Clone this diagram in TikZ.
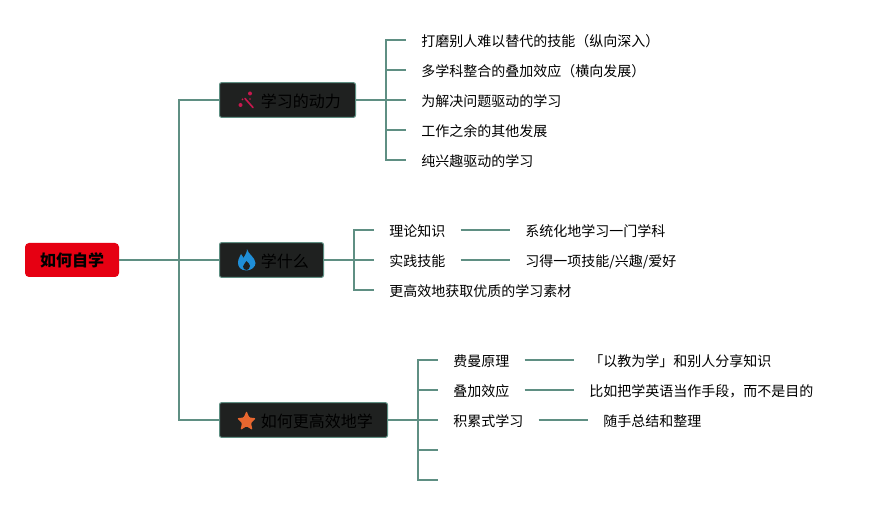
\documentclass[tikz,border=0pt]{standalone}
\usepackage{fontspec}
\setmainfont{Noto Sans CJK SC}
\definecolor{linec}{HTML}{5F8F83}
\definecolor{darkb}{HTML}{1F2120}
\definecolor{rootr}{HTML}{E60012}
\definecolor{wand}{HTML}{C8184E}
\definecolor{flame}{HTML}{1F8FD8}
\definecolor{starc}{HTML}{E8672F}
\tikzset{
  conn/.style={draw=linec,line width=1.5pt},
  rootbox/.style={fill=rootr,rounded corners=3pt,minimum width=70.5pt,minimum height=25.5pt,inner sep=0pt,text height=11.6pt,text depth=2.5pt,font=\fontsize{12}{12}\selectfont\bfseries,text=black},
  branchbox/.style={fill=darkb,draw=linec,line width=0.75pt,rounded corners=1.5pt,minimum height=26pt,inner xsep=11pt,inner ysep=0pt,anchor=west,align=right,font=\fontsize{12}{12}\selectfont,text=black},
  leaf/.style={anchor=west,inner xsep=11.25pt,inner ysep=0pt,text height=11pt,text depth=1.5pt,font=\fontsize{10.5}{10.5}\selectfont,text=black},
}
\begin{document}
\begin{tikzpicture}[x=0.75pt,y=-0.75pt]
\useasboundingbox (0,0) rectangle (873,505);
\fill[white] (0,0) rectangle (873,505);
% main nodes
\node[rootbox] (root) at (72,260) {如何自学};
\node[branchbox,text width=80pt] (b1) at (219,100) {\rule[-1.4pt]{0pt}{13.4pt}学习的动力};
\node[branchbox,text width=56pt] (b2) at (219,260) {\rule[-1.4pt]{0pt}{13.4pt}学什么};
\node[branchbox,text width=104pt] (b3) at (219,420) {\rule[-1.4pt]{0pt}{13.4pt}如何更高效地学};
% leaves group 1
\node[leaf] (a1) at (406,40) {打磨别人难以替代的技能（纵向深入）};
\node[leaf] (a2) at (406,70) {多学科整合的叠加效应（横向发展）};
\node[leaf] (a3) at (406,100) {为解决问题驱动的学习};
\node[leaf] (a4) at (406,130) {工作之余的其他发展};
\node[leaf] (a5) at (406,160) {纯兴趣驱动的学习};
% leaves group 2
\node[leaf] (c1) at (374,230) {理论知识};
\node[leaf] (c2) at (374,260) {实践技能};
\node[leaf] (c3) at (374,290) {更高效地获取优质的学习素材};
\node[leaf] (c1x) at (510,230) {系统化地学习一门学科};
\node[leaf] (c2x) at (510,260) {习得一项技能/兴趣/爱好};
% leaves group 3
\node[leaf] (d1) at (438,360) {费曼原理};
\node[leaf] (d2) at (438,390) {叠加效应};
\node[leaf] (d3) at (438,420) {积累式学习};
\coordinate (d4) at (438,450);
\coordinate (d5) at (438,480);
\node[leaf] (d1x) at (574,360) {「以教为学」和别人分享知识};
\node[leaf] (d2x) at (574,390) {比如把学英语当作手段，而不是目的};
\node[leaf] (d3x) at (588,420) {随手总结和整理};
% spines
\coordinate (s0) at (178.5,260);
\coordinate (s1) at (386,100);
\coordinate (s2) at (354,260);
\coordinate (s3) at (418,420);
% connectors
\draw[conn] (root.east) -- (b2.west);
\draw[conn] (b1.west) -| (s0);
\draw[conn] (b3.west) -| (s0);
\draw[conn] (b1.east) -- (s1);
\foreach \n in {a1,a2,a3,a4,a5}{\draw[conn] (s1) |- (\n.west);}
\draw[conn] (b2.east) -- (s2);
\foreach \n in {c1,c2,c3}{\draw[conn] (s2) |- (\n.west);}
\draw[conn] (b3.east) -- (s3);
\foreach \n in {d1,d2,d3}{\draw[conn] (s3) |- (\n.west);}
\draw[conn] (s3) |- (d4);
\draw[conn] (s3) |- (d5);
\draw[conn] (c1.east) -- (c1x.west);
\draw[conn] (c2.east) -- (c2x.west);
\draw[conn] (d1.east) -- (d1x.west);
\draw[conn] (d2.east) -- (d2x.west);
\draw[conn] (d3.east) -- (d3x.west);
% icons
\draw[wand,line width=1.2pt,line cap=round] (245,98.5) -- (253,107.5);
\fill[wand] (250,93.5) circle[radius=2];
\fill[wand] (240.5,105) circle[radius=2];
\fill[wand] (242.5,99.5) circle[radius=1];
\fill[wand] (250,99) circle[radius=0.8];
\fill[flame] (247,249) .. controls (248,254) and (255,257) .. (255.5,263)
  .. controls (255.5,267) and (251,270.5) .. (246.5,270.5)
  .. controls (241,270.5) and (237.5,267) .. (238,262)
  .. controls (238.5,258) and (240,257) .. (241,254)
  .. controls (242.5,256) and (243,257) .. (243.5,258)
  .. controls (245,255) and (247,253) .. (247,249) -- cycle;
\fill[darkb] (246.5,261) .. controls (248,263) and (250,264) .. (250,266)
  .. controls (250,268.5) and (248,270) .. (246.5,270)
  .. controls (244.5,270) and (243,268.5) .. (243,266.5)
  .. controls (243,264.5) and (245.5,263.5) .. (246.5,261) -- cycle;
\fill[starc,rounded corners=0.8pt] (246.5,411) -- (249.3,417.5) -- (256,418.2) -- (251,423) -- (252.5,430) -- (246.5,426.3) -- (240.5,430) -- (242,423) -- (237,418.2) -- (243.7,417.5) -- cycle;
\end{tikzpicture}
\end{document}
